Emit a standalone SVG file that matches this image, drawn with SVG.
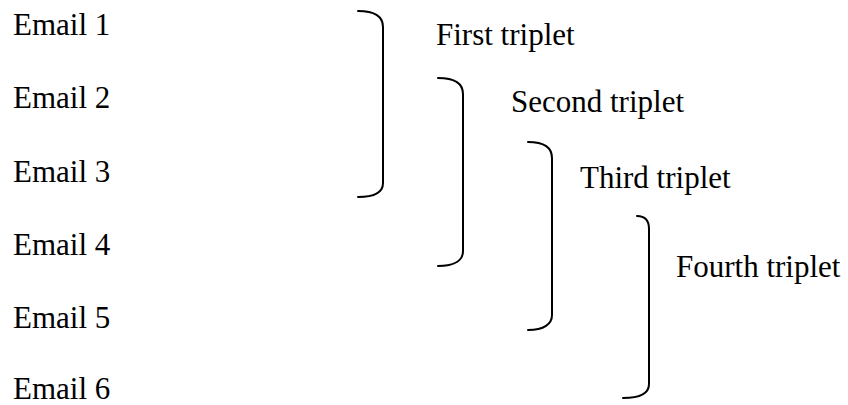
<svg xmlns="http://www.w3.org/2000/svg" width="848" height="405" viewBox="0 0 848 405">
  <style>
    text { font-family: "Liberation Serif", "Times New Roman", serif; font-size: 31px; fill: #000; }
    .bracket { fill: none; stroke: #000; stroke-width: 2; stroke-linecap: round; }
  </style>
  <rect width="848" height="405" fill="#fff"/>

  <g id="email-1"><text x="13" y="35">Email 1</text></g>
  <g id="email-2"><text x="13" y="108">Email 2</text></g>
  <g id="email-3"><text x="13" y="182">Email 3</text></g>
  <g id="email-4"><text x="13" y="255">Email 4</text></g>
  <g id="email-5"><text x="13" y="328">Email 5</text></g>
  <g id="email-6"><text x="13" y="399">Email 6</text></g>

  <g id="connectors">
    <path class="bracket" d="M358,11 C375,11 383,17 383,27 L383,183 C383,192 375,197 358,197"/>
    <path class="bracket" d="M438,78 C455,78 463,84 463,94 L463,251 C463,260 455,266 438,266"/>
    <path class="bracket" d="M528,142 C544,142 552,148 552,158 L552,315 C552,324 544,330 528,330"/>
    <path class="bracket" d="M637,216 C645,216 649,221 649,229 L649,384 C649,393 640,398 623,398"/>
  </g>

  <g id="first-triplet"><text x="436" y="45">First triplet</text></g>
  <g id="second-triplet"><text x="511" y="112">Second triplet</text></g>
  <g id="third-triplet"><text x="580" y="188">Third triplet</text></g>
  <g id="fourth-triplet"><text x="676" y="277">Fourth triplet</text></g>
</svg>
